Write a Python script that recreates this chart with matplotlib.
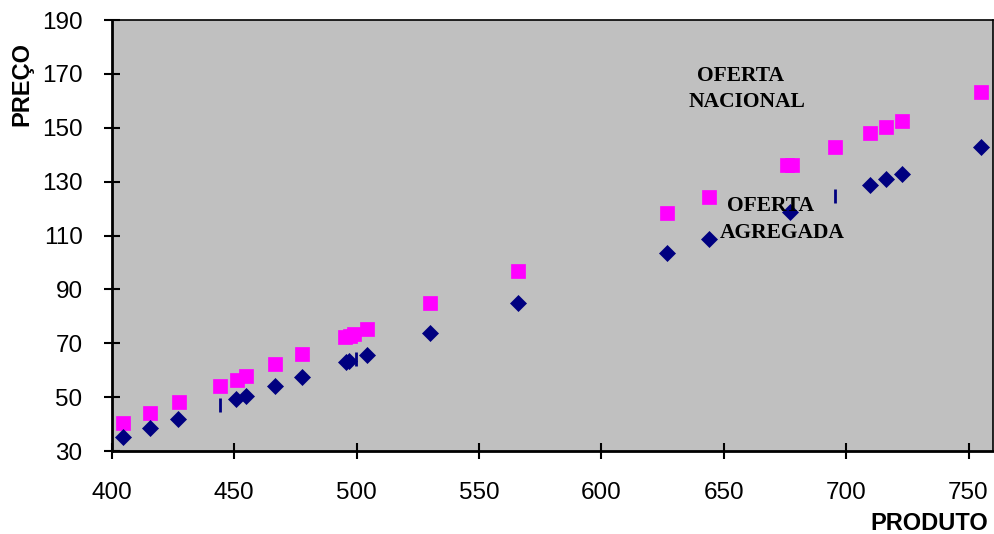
import matplotlib
matplotlib.use("Agg")
import matplotlib.pyplot as plt

# Oferta nacional (pink squares)
nac_x = [404.7, 415.7, 427.5, 444.3, 451.1, 454.9, 466.8, 477.7, 495.4, 497.4, 498.8, 504.3,
         530.1, 565.8, 627.0, 643.9, 676.0, 678.0, 695.3, 709.7, 716.3, 722.8, 755.1]
nac_y = [40.3, 44.2, 48.3, 54.2, 56.4, 58.0, 62.2, 66.1, 72.2, 72.7, 73.4, 75.2,
         84.8, 96.9, 118.5, 124.4, 136.0, 136.2, 142.7, 147.9, 150.2, 152.4, 163.4]

# Oferta agregada (navy diamonds)
agr_x = [404.7, 415.7, 427.0, 450.8, 454.9, 466.8, 477.7, 495.6, 497.0, 504.3, 530.1,
         565.8, 627.0, 643.9, 676.9, 709.7, 716.3, 722.8, 755.1]
agr_y = [35.1, 38.6, 41.9, 49.2, 50.4, 54.1, 57.4, 63.1, 63.4, 65.6, 73.7,
         84.8, 103.4, 108.6, 118.8, 128.6, 130.9, 132.8, 142.8]

# Third series (navy dashes)
dash_x = [444.4, 499.9, 695.4]
dash_y = [47.2, 64.2, 124.5]

x_ticks = [400, 450, 500, 550, 600, 650, 700, 750]
y_ticks = [30, 50, 70, 90, 110, 130, 150, 170, 190]

fig = plt.figure(figsize=(9.95, 5.34), dpi=100)
fig.patch.set_facecolor("white")
ax = fig.add_axes([0.1123, 0.1554, 0.998 - 0.1123, 0.9625 - 0.1554])
ax.set_facecolor("#C0C0C0")

ax.plot(nac_x, nac_y, linestyle="none", marker="s", markersize=10.5,
        markerfacecolor="#FF00FF", markeredgecolor="#FF00FF", markeredgewidth=0.5, zorder=3)
ax.plot(agr_x, agr_y, linestyle="none", marker="D", markersize=7.8,
        markerfacecolor="#000080", markeredgecolor="#000080", markeredgewidth=0.5, zorder=3)
ax.plot(dash_x, dash_y, linestyle="none", marker="|", markersize=9.5,
        markeredgecolor="#000080", markeredgewidth=2.0, zorder=3)

ax.set_xlim(400, 760)
ax.set_ylim(30, 190)
ax.set_xticks(x_ticks)
ax.set_yticks(y_ticks)
ax.set_xticklabels([str(v) for v in x_ticks])
ax.set_yticklabels([str(v) for v in y_ticks])

ax.tick_params(axis="both", direction="inout", length=12, width=1.5, color="black",
               labelsize=17.5, labelcolor="black")
ax.tick_params(axis="x", pad=16)
ax.tick_params(axis="y", pad=15)
for lab in ax.get_xticklabels() + ax.get_yticklabels():
    lab.set_fontfamily("Liberation Sans")

for side in ["left", "bottom"]:
    ax.spines[side].set_linewidth(2.0)
    ax.spines[side].set_color("black")
for side in ["top", "right"]:
    ax.spines[side].set_linewidth(1.2)
    ax.spines[side].set_color("black")

label_style = dict(ha="center", va="center", fontsize=15.5, fontweight="bold",
                   family="Liberation Serif", zorder=4)
ax.text(656.9, 169.3, "OFERTA", **label_style)
ax.text(659.3, 159.7, "NACIONAL", **label_style)
ax.text(669.2, 121.1, "OFERTA", **label_style)
ax.text(673.8, 110.8, "AGREGADA", **label_style)

fig.text(22 / 995, 1 - 84 / 534, "PREÇO", rotation=90, ha="center", va="center",
         fontsize=17, fontweight="bold", family="Liberation Sans")
fig.text(988 / 995, 1 - 524 / 534, "PRODUTO", ha="right", va="center",
         fontsize=17, fontweight="bold", family="Liberation Sans")

fig.savefig("out.png", dpi=100, facecolor="white")
